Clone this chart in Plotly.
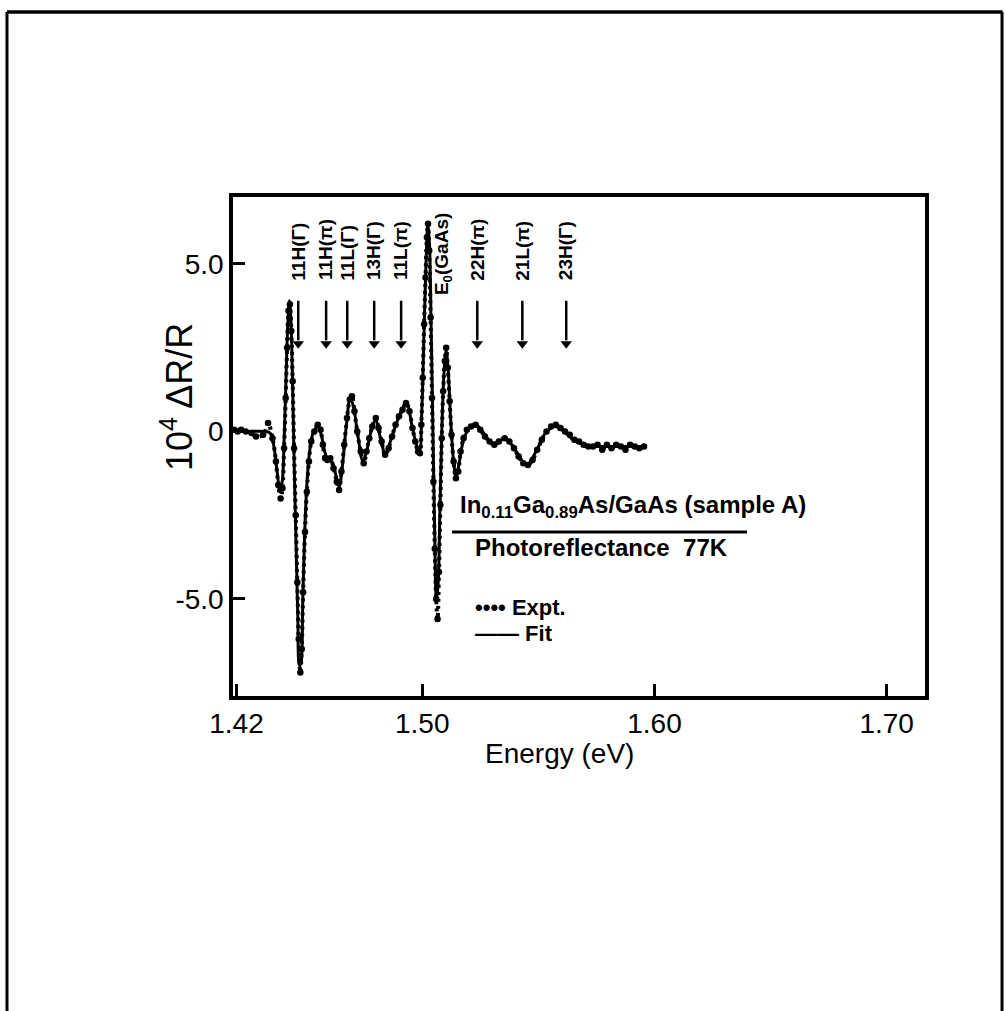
import plotly.graph_objects as go

# ---------------- data ----------------
energy_fit = [1.4185, 1.4250, 1.4320, 1.4345, 1.4360, 1.4375, 1.4387, 1.4397, 1.4405, 1.4413,
              1.4421, 1.4428, 1.4434, 1.4441, 1.4448, 1.4456, 1.4464, 1.4471, 1.4478, 1.4485,
              1.4493, 1.4503, 1.4515, 1.4530, 1.4550, 1.4565, 1.4580, 1.4595, 1.4610, 1.4628,
              1.4642, 1.4655, 1.4672, 1.4690, 1.4705, 1.4722, 1.4745, 1.4760, 1.4785, 1.4800,
              1.4820, 1.4842, 1.4865, 1.4900, 1.4932, 1.4955, 1.4975, 1.4988, 1.4998, 1.5007,
              1.5016, 1.5024, 1.5031, 1.5038, 1.5046, 1.5054, 1.5061, 1.5068, 1.5076, 1.5085,
              1.5095, 1.5103, 1.5111, 1.5122, 1.5135, 1.5146, 1.5160, 1.5180, 1.5205, 1.5235,
              1.5265, 1.5300, 1.5330, 1.5360, 1.5400, 1.5450, 1.5490, 1.5530, 1.5570, 1.5610,
              1.5650, 1.5700, 1.5750, 1.5800, 1.5850, 1.5900, 1.5955]
dr_fit = [0.0, 0.0, 0.0, -0.05, -0.4, -1.2, -1.8, -1.5, -0.3, 1.5,
          3.2, 3.9, 3.4, 1.6, -0.8, -3.2, -5.5, -7.0, -6.9, -5.2,
          -3.2, -1.6, -0.6, -0.05, 0.15, -0.1, -0.6, -0.85, -0.9, -1.3,
          -1.65, -1.1, 0.1, 1.0, 0.7, -0.1, -0.9, -0.6, 0.15, 0.35,
          -0.2, -0.7, -0.25, 0.45, 0.85, 0.2, -0.4, -0.6, 0.6, 2.8,
          5.0, 6.2, 5.6, 3.2, 0.0, -3.2, -5.0, -4.6, -2.4, 0.2,
          1.9, 2.4, 1.9, 0.4, -0.9, -1.35, -0.9, -0.2, 0.1, 0.15,
          -0.05, -0.35, -0.3, -0.2, -0.55, -1.0, -0.6, -0.05, 0.15, 0.0,
          -0.25, -0.4, -0.45, -0.45, -0.45, -0.45, -0.45]

energy_expt = [1.4190, 1.4205, 1.4220, 1.4240, 1.4265, 1.4284, 1.4315, 1.4336, 1.4355, 1.4370,
               1.4380, 1.4390, 1.4398, 1.4405, 1.4412, 1.4418, 1.4424, 1.4430, 1.4436, 1.4442,
               1.4448, 1.4455, 1.4462, 1.4468, 1.4475, 1.4481, 1.4487, 1.4495, 1.4503, 1.4512,
               1.4522, 1.4535, 1.4550, 1.4562, 1.4572, 1.4582, 1.4592, 1.4604, 1.4618, 1.4632,
               1.4642, 1.4652, 1.4664, 1.4676, 1.4688, 1.4697, 1.4708, 1.4720, 1.4735, 1.4748,
               1.4760, 1.4772, 1.4785, 1.4800, 1.4812, 1.4825, 1.4840, 1.4855, 1.4870, 1.4885,
               1.4900, 1.4915, 1.4930, 1.4945, 1.4958, 1.4970, 1.4982, 1.4990, 1.4996, 1.5002,
               1.5008, 1.5014, 1.5020, 1.5025, 1.5030, 1.5036, 1.5042, 1.5048, 1.5054, 1.5060,
               1.5066, 1.5072, 1.5078, 1.5084, 1.5090, 1.5097, 1.5103, 1.5110, 1.5118, 1.5126,
               1.5135, 1.5145, 1.5155, 1.5165, 1.5178, 1.5192, 1.5210, 1.5230, 1.5250, 1.5270,
               1.5290, 1.5310, 1.5330, 1.5355, 1.5375, 1.5395, 1.5415, 1.5435, 1.5455, 1.5475,
               1.5495, 1.5515, 1.5535, 1.5555, 1.5575, 1.5595, 1.5615, 1.5635, 1.5655, 1.5675,
               1.5695, 1.5715, 1.5735, 1.5755, 1.5775, 1.5795, 1.5815, 1.5835, 1.5855, 1.5875,
               1.5895, 1.5915, 1.5935, 1.5955]
dr_expt = [0.05, 0.0, 0.05, 0.0, -0.05, -0.15, -0.1, 0.25, -0.2, -0.9,
           -1.6, -2.0, -1.7, -0.5, 1.0, 2.5, 3.6, 3.8, 3.0, 1.5,
           -0.5, -2.5, -4.5, -6.2, -7.2, -6.5, -4.8, -3.0, -1.8, -0.9,
           -0.3, 0.0, 0.2, 0.05, -0.4, -0.8, -0.85, -0.8, -1.1, -1.5,
           -1.75, -1.2, -0.4, 0.4, 0.95, 1.05, 0.6, 0.0, -0.6, -0.95,
           -0.6, -0.2, 0.15, 0.4, 0.1, -0.3, -0.7, -0.5, -0.15, 0.2,
           0.45, 0.65, 0.85, 0.6, 0.1, -0.3, -0.6, -0.65, 0.2, 1.6,
           3.2, 4.6, 5.8, 6.2, 5.4, 3.4, 1.0, -1.5, -3.5, -5.0,
           -5.6, -4.2, -2.2, -0.2, 1.2, 2.1, 2.5, 1.9, 0.9, -0.1,
           -0.9, -1.4, -1.2, -0.6, -0.2, 0.05, 0.15, 0.2, 0.05, -0.15,
           -0.3, -0.4, -0.3, -0.2, -0.3, -0.5, -0.75, -0.95, -1.0, -0.85,
           -0.55, -0.25, 0.0, 0.15, 0.2, 0.1, 0.0, -0.1, -0.25, -0.3,
           -0.4, -0.45, -0.45, -0.4, -0.55, -0.4, -0.5, -0.4, -0.45, -0.55,
           -0.4, -0.45, -0.5, -0.45]

transition_energies = [1.4466, 1.4586, 1.4677, 1.4793, 1.4909, 1.5237, 1.5431, 1.5620]
transition_labels = ["11H(Γ)", "11H(π)", "11L(Γ)", "13H(Γ)", "11L(π)", "22H(π)", "21L(π)", "23H(Γ)"]
gaas_e0_energy = 1.5092
gaas_e0_label = "E<sub>0</sub>(GaAs)"

x_tick_vals = [1.42, 1.50, 1.60, 1.70]
x_tick_text = ["1.42", "1.50", "1.60", "1.70"]
y_tick_vals = [-5, 0, 5]
y_tick_text = ["-5.0", "0", "5.0"]

FONT = "Liberation Sans"
ARROW_TOP, ARROW_HEAD = 3.9, 2.62


def bold(size):
    return dict(family=FONT, size=size, color="black", weight="bold")


def plain(size):
    return dict(family=FONT, size=size, color="black")


# ---------------- figure ----------------
fig = go.Figure()
fig.add_trace(go.Scatter(
    x=energy_expt, y=dr_expt, mode="lines+markers", name="Expt.", showlegend=False,
    line=dict(color="black", width=4, dash="3px,4px", shape="spline"),
    marker=dict(size=6.5, color="black")))
fig.add_trace(go.Scatter(
    x=energy_fit, y=dr_fit, mode="lines", name="Fit", showlegend=False,
    line=dict(color="black", width=3, shape="spline")))

# transition arrows: shafts + heads built from the transition energies
shaft_x, shaft_y = [], []
for e in transition_energies:
    shaft_x += [e, e, None]
    shaft_y += [ARROW_TOP, ARROW_HEAD + 0.1, None]
fig.add_trace(go.Scatter(x=shaft_x, y=shaft_y, mode="lines", showlegend=False,
                         line=dict(color="black", width=2.5), hoverinfo="skip"))
fig.add_trace(go.Scatter(x=transition_energies, y=[ARROW_HEAD] * len(transition_energies),
                         mode="markers", showlegend=False, hoverinfo="skip",
                         marker=dict(symbol="triangle-down", size=10, color="black")))

annotations = []
for e, lab in zip(transition_energies, transition_labels):
    annotations.append(dict(x=e, y=4.45, xref="x", yref="y", text=lab,
                            showarrow=False, textangle=-90, xanchor="center", yanchor="bottom",
                            font=bold(19)))
annotations.append(dict(x=gaas_e0_energy, y=4.0, xref="x", yref="y", text=gaas_e0_label,
                        showarrow=False, textangle=-90, xanchor="center", yanchor="bottom",
                        font=bold(19)))

annotations += [
    dict(x=-0.118, y=0.60, xref="paper", yref="paper", text="10<sup>4</sup> ΔR/R",
         showarrow=False, textangle=-90, font=plain(36)),
    dict(x=0.4725, y=-0.15, xref="paper", yref="paper", text="Energy (eV)",
         showarrow=False, font=plain(28)),
    dict(x=0.325, y=0.379, xref="paper", yref="paper", xanchor="left",
         text="In<sub>0.11</sub>Ga<sub>0.89</sub>As/GaAs (sample A)",
         showarrow=False, font=bold(24)),
    dict(x=0.347, y=0.2665, xref="paper", yref="paper", xanchor="left",
         text="Photoreflectance  77K", showarrow=False, font=bold(24)),
    dict(x=0.347, y=0.148, xref="paper", yref="paper", xanchor="left",
         text="•••• Expt.", showarrow=False, font=bold(22)),
    dict(x=0.347, y=0.096, xref="paper", yref="paper", xanchor="left",
         text="—— Fit", showarrow=False, font=bold(22)),
]

shapes = [
    dict(type="line", xref="paper", yref="paper", x0=0.3165, x1=0.7428, y0=0.3287, y1=0.3287,
         line=dict(color="black", width=3)),
    dict(type="line", xref="paper", yref="paper", x0=-0.3266, x1=1.112, y0=1.3707, y1=1.3707,
         line=dict(color="black", width=3.5)),
    dict(type="line", xref="paper", yref="paper", x0=-0.3266, x1=-0.3266, y0=1.3707, y1=-0.64,
         line=dict(color="black", width=3)),
    dict(type="line", xref="paper", yref="paper", x0=1.1113, x1=1.1113, y0=1.3707, y1=-0.64,
         line=dict(color="black", width=3)),
]

fig.update_layout(
    width=1005, height=1011,
    margin=dict(l=233, r=80, t=197, b=315),
    paper_bgcolor="white", plot_bgcolor="white",
    showlegend=False,
    annotations=annotations, shapes=shapes,
    font=dict(family=FONT, color="black"),
    xaxis=dict(range=[1.4185, 1.7165], showline=True, linewidth=3.5, linecolor="black",
               mirror=True, ticks="inside", ticklen=12, tickwidth=3, tickcolor="black",
               tickvals=x_tick_vals, ticktext=x_tick_text, showgrid=False, zeroline=False,
               tickfont=plain(28)),
    yaxis=dict(range=[-7.9, 7.0], showline=True, linewidth=3.5, linecolor="black",
               mirror=True, ticks="inside", ticklen=12, tickwidth=3, tickcolor="black",
               tickvals=y_tick_vals, ticktext=y_tick_text, showgrid=False, zeroline=False,
               tickfont=plain(28)),
)

fig.write_html("out.html")
